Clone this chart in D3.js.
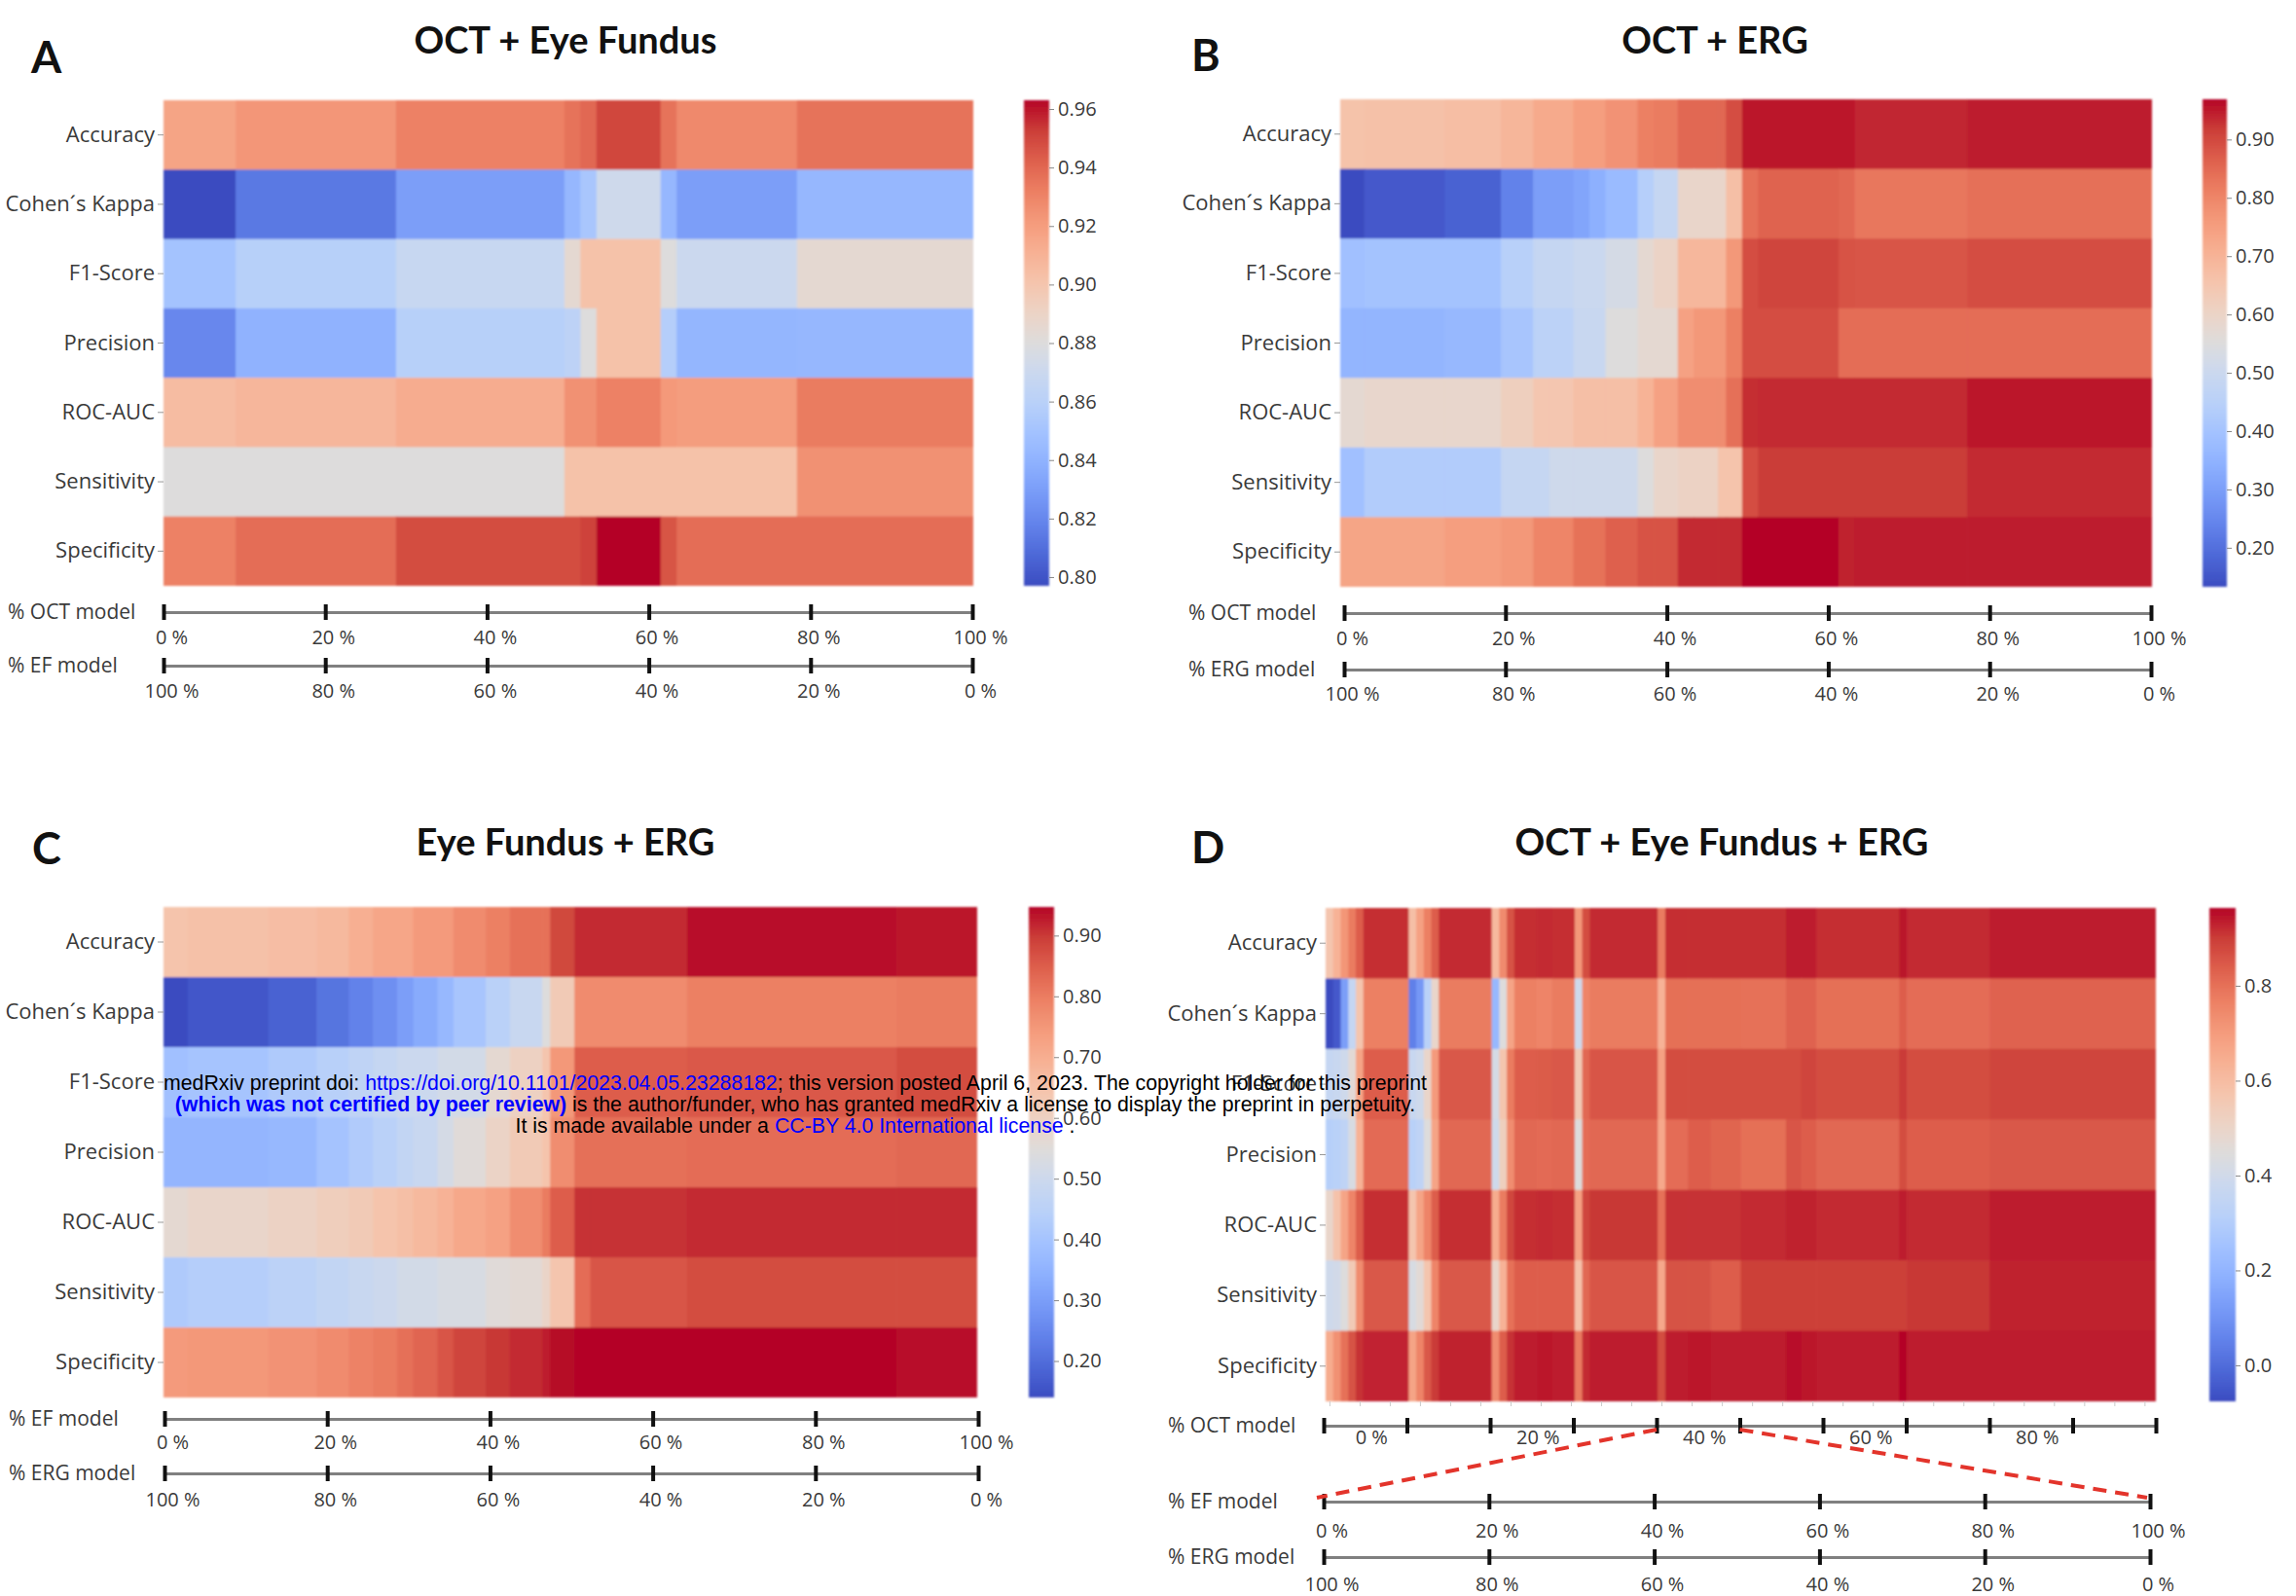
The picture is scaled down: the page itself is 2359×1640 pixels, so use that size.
<!DOCTYPE html>
<meta charset="utf-8">
<script src="https://d3js.org/d3.v7.min.js"></script>
<style>
  body { margin: 0; background: #fff; }
</style>
<body>
<script>

// ---- data -------------------------------------------------------------
var metrics = ["Accuracy", "Cohen´s Kappa", "F1-Score", "Precision", "ROC-AUC", "Sensitivity", "Specificity"];
var pctTicks = [0, 20, 40, 60, 80, 100];
var octGroups = [0, 10, 20, 30, 40, 50, 60, 70, 80, 90];

// A: OCT + Eye Fundus, 101 weight steps, values constant between breaks
var colsA = 101;
var breaksA = [0, 9, 29, 50, 52, 54, 62, 64, 79, 101];
var valuesA = [
  [0.917, 0.923, 0.931, 0.936, 0.940, 0.950, 0.936, 0.928, 0.936],
  [0.797, 0.814, 0.830, 0.843, 0.852, 0.872, 0.843, 0.830, 0.843],
  [0.850, 0.859, 0.868, 0.885, 0.902, 0.902, 0.880, 0.870, 0.885],
  [0.820, 0.840, 0.859, 0.862, 0.880, 0.902, 0.858, 0.842, 0.843],
  [0.905, 0.908, 0.913, 0.925, 0.925, 0.931, 0.922, 0.920, 0.933],
  [0.880, 0.880, 0.880, 0.902, 0.902, 0.902, 0.902, 0.902, 0.925],
  [0.931, 0.938, 0.948, 0.948, 0.951, 0.963, 0.946, 0.938, 0.938]
];
var cbTicksA = [0.80, 0.82, 0.84, 0.86, 0.88, 0.90, 0.92, 0.94, 0.96];

// B: OCT + ERG
var colsB = 101;
var breaksB = [0, 3, 13, 20, 24, 26, 29, 31, 33, 37, 39, 42, 44, 47, 48, 50, 52, 62, 64, 78, 101];
var valuesB = [
  [0.659, 0.663, 0.672, 0.693, 0.722, 0.722, 0.751, 0.751, 0.776, 0.810, 0.818, 0.852, 0.852, 0.852, 0.893, 0.952, 0.952, 0.952, 0.939, 0.948],
  [0.133, 0.158, 0.174, 0.237, 0.300, 0.300, 0.316, 0.342, 0.375, 0.442, 0.484, 0.592, 0.592, 0.592, 0.668, 0.839, 0.860, 0.852, 0.826, 0.839],
  [0.392, 0.400, 0.400, 0.446, 0.484, 0.484, 0.500, 0.500, 0.525, 0.576, 0.601, 0.689, 0.689, 0.689, 0.764, 0.893, 0.906, 0.885, 0.881, 0.893],
  [0.358, 0.358, 0.367, 0.408, 0.459, 0.459, 0.492, 0.492, 0.551, 0.576, 0.576, 0.743, 0.764, 0.764, 0.810, 0.893, 0.893, 0.843, 0.843, 0.843],
  [0.576, 0.588, 0.588, 0.617, 0.647, 0.647, 0.668, 0.668, 0.668, 0.701, 0.743, 0.785, 0.785, 0.785, 0.839, 0.931, 0.935, 0.935, 0.935, 0.952],
  [0.392, 0.433, 0.433, 0.484, 0.484, 0.509, 0.509, 0.509, 0.509, 0.551, 0.592, 0.605, 0.605, 0.655, 0.655, 0.893, 0.918, 0.918, 0.918, 0.935],
  [0.735, 0.735, 0.751, 0.764, 0.801, 0.801, 0.835, 0.835, 0.864, 0.885, 0.885, 0.935, 0.935, 0.935, 0.935, 0.969, 0.969, 0.944, 0.948, 0.948]
];
var cbTicksB = [0.20, 0.30, 0.40, 0.50, 0.60, 0.70, 0.80, 0.90];

// C: Eye Fundus + ERG
var colsC = 101;
var breaksC = [0, 3, 13, 19, 23, 26, 29, 31, 34, 36, 40, 43, 47, 48, 51, 53, 65, 91, 101];
var valuesC = [
  [0.644, 0.652, 0.661, 0.673, 0.697, 0.717, 0.717, 0.745, 0.745, 0.773, 0.794, 0.818, 0.818, 0.882, 0.915, 0.915, 0.939, 0.931],
  [0.140, 0.160, 0.180, 0.213, 0.241, 0.269, 0.301, 0.330, 0.366, 0.406, 0.447, 0.487, 0.544, 0.624, 0.773, 0.773, 0.794, 0.802],
  [0.390, 0.402, 0.422, 0.443, 0.463, 0.479, 0.495, 0.495, 0.515, 0.515, 0.568, 0.600, 0.640, 0.749, 0.850, 0.850, 0.858, 0.874],
  [0.358, 0.358, 0.366, 0.398, 0.426, 0.447, 0.471, 0.487, 0.519, 0.552, 0.592, 0.624, 0.644, 0.769, 0.822, 0.822, 0.826, 0.834],
  [0.568, 0.584, 0.596, 0.612, 0.624, 0.644, 0.656, 0.673, 0.689, 0.713, 0.729, 0.769, 0.802, 0.850, 0.907, 0.907, 0.915, 0.915],
  [0.422, 0.435, 0.455, 0.471, 0.487, 0.499, 0.515, 0.515, 0.527, 0.527, 0.552, 0.560, 0.588, 0.640, 0.826, 0.862, 0.874, 0.874],
  [0.745, 0.749, 0.761, 0.773, 0.790, 0.802, 0.822, 0.838, 0.862, 0.886, 0.903, 0.915, 0.927, 0.943, 0.947, 0.947, 0.947, 0.939]
];
var cbTicksC = [0.20, 0.30, 0.40, 0.50, 0.60, 0.70, 0.80, 0.90];

// D: OCT + Eye Fundus + ERG, 10 OCT groups x 11 EF/ERG splits
var colsD = 110;
var breaksD = [0, 1, 2, 3, 4, 5, 11, 12, 13, 14, 15, 22, 23, 24, 25, 28, 30, 33, 34, 35, 44, 45, 48, 51, 55, 61, 63, 65, 76, 77, 88, 110];
var valuesD = [
  [0.569, 0.631, 0.714, 0.777, 0.839, 0.917, 0.590, 0.683, 0.766, 0.839, 0.922, 0.610, 0.740, 0.860, 0.917, 0.922, 0.917, 0.709, 0.870, 0.922, 0.777, 0.917, 0.917, 0.917, 0.917, 0.938, 0.938, 0.917, 0.948, 0.922, 0.938],
  [-0.076, -0.045, 0.132, 0.361, 0.569, 0.766, 0.049, 0.111, 0.319, 0.496, 0.777, 0.215, 0.444, 0.673, 0.766, 0.756, 0.777, 0.392, 0.756, 0.777, 0.631, 0.803, 0.803, 0.803, 0.798, 0.829, 0.829, 0.803, 0.839, 0.808, 0.829],
  [0.361, 0.371, 0.392, 0.465, 0.673, 0.839, 0.371, 0.392, 0.496, 0.704, 0.850, 0.413, 0.569, 0.777, 0.839, 0.844, 0.850, 0.548, 0.818, 0.855, 0.683, 0.870, 0.870, 0.870, 0.870, 0.870, 0.886, 0.870, 0.902, 0.870, 0.886],
  [0.309, 0.319, 0.340, 0.423, 0.631, 0.813, 0.319, 0.340, 0.444, 0.673, 0.818, 0.392, 0.527, 0.735, 0.818, 0.813, 0.818, 0.444, 0.808, 0.818, 0.662, 0.808, 0.839, 0.824, 0.803, 0.855, 0.839, 0.818, 0.870, 0.839, 0.850],
  [0.496, 0.579, 0.673, 0.756, 0.839, 0.917, 0.569, 0.673, 0.756, 0.839, 0.917, 0.652, 0.777, 0.881, 0.917, 0.922, 0.917, 0.683, 0.886, 0.907, 0.798, 0.912, 0.912, 0.912, 0.922, 0.933, 0.933, 0.922, 0.938, 0.922, 0.938],
  [0.392, 0.402, 0.444, 0.548, 0.735, 0.850, 0.423, 0.465, 0.569, 0.756, 0.850, 0.496, 0.631, 0.798, 0.839, 0.839, 0.839, 0.579, 0.818, 0.855, 0.662, 0.860, 0.860, 0.839, 0.896, 0.896, 0.896, 0.896, 0.896, 0.907, 0.933],
  [0.652, 0.725, 0.798, 0.860, 0.912, 0.928, 0.673, 0.756, 0.850, 0.902, 0.933, 0.735, 0.839, 0.912, 0.938, 0.943, 0.938, 0.777, 0.922, 0.938, 0.870, 0.938, 0.943, 0.938, 0.938, 0.954, 0.943, 0.938, 0.964, 0.938, 0.938]
];
var cbTicksD = [0.0, 0.2, 0.4, 0.6, 0.8];

// ---- drawing ----------------------------------------------------------
var W = 2359, H = 1640;
var labelFont = "'Open Sans', sans-serif";
var headFont = "Lato, 'Open Sans', sans-serif";

var svg = d3.select("body").append("svg")
    .attr("width", W).attr("height", H)
    .style("font-family", labelFont);

// matplotlib coolwarm, sampled
var cwStops = ["#3b4cc0", "#4d68d7", "#6282ea", "#779af7", "#8db0fe", "#a2c1ff", "#b8d0f9", "#cad8ef",
               "#dddcdc", "#ecd3c5", "#f5c4ac", "#f7b093", "#f49a7b", "#ec7f63", "#de604d", "#cb3e38", "#b40426"];
var cw = d3.scaleLinear()
    .domain(cwStops.map(function(d, i){ return i / (cwStops.length - 1); }))
    .range(cwStops)
    .clamp(true);

var defs = svg.append("defs");
defs.append("filter").attr("id", "soft")
    .append("feGaussianBlur").attr("stdDeviation", 1.1);
var grad = defs.append("linearGradient").attr("id", "cwGrad")
    .attr("x1", 0).attr("y1", 1).attr("x2", 0).attr("y2", 0);
d3.range(33).forEach(function(i){
    grad.append("stop").attr("offset", (i / 32 * 100) + "%").attr("stop-color", cw(i / 32));
});

function styleAxis(a, labelDy) {
    a.attr("font-size", 20).attr("font-family", labelFont);
    a.select(".domain").attr("stroke", "#808080").attr("stroke-width", 3);
    a.selectAll(".tick line").attr("y1", -8).attr("y2", 8).attr("stroke", "#111").attr("stroke-width", 4);
    a.selectAll(".tick text").attr("y", labelDy).attr("dy", "0.35em").attr("dx", 8).attr("fill", "#3a3a3a");
}

function axisTitle(g, x, y, txt) {
    g.append("text").attr("x", x).attr("y", y).attr("dy", "0.35em")
        .attr("font-size", 21).attr("fill", "#3a3a3a").text(txt);
}

// bottom weight axis, 0..100 % either way
function pctAxis(g, x0, x1, yLine, dom, labelDy, title) {
    var s = d3.scaleLinear().domain(dom).range([x0, x1]);
    var a = g.append("g").attr("transform", "translate(0," + yLine + ")")
        .call(d3.axisBottom(s).tickValues(pctTicks).tickFormat(function(d){ return d + " %"; })
            .tickSize(8).tickSizeOuter(0));
    styleAxis(a, labelDy);
    axisTitle(g, x0 - 160, yLine, title);
    return s;
}

function drawPanel(p) {
    var g = svg.append("g");
    var ext = d3.extent(d3.merge(p.values));
    var x = d3.scaleLinear().domain([0, p.cols]).range([p.x0, p.x1]);
    var y = d3.scaleBand().domain(metrics).range([p.y0, p.y1]);
    var c = d3.scaleLinear().domain(ext).range([0, 1]);

    var cells = [];
    p.values.forEach(function(row, r){
        row.forEach(function(v, i){
            cells.push({ m: metrics[r], a: p.breaks[i], b: p.breaks[i + 1], v: v });
        });
    });

    g.append("g").attr("filter", "url(#soft)")
      .selectAll("rect").data(cells).join("rect")
        .attr("x", function(d){ return x(d.a); })
        .attr("width", function(d){ return x(d.b) - x(d.a) + (d.b < p.cols ? 0.7 : 0); })
        .attr("y", function(d){ return y(d.m); })
        .attr("height", function(d){ return y.bandwidth() + (d.m !== metrics[6] ? 0.7 : 0); })
        .attr("fill", function(d){ return cw(c(d.v)); });

    // metric names
    var ya = g.append("g").attr("transform", "translate(" + p.x0 + ",0)")
        .call(d3.axisLeft(y).tickSize(6).tickPadding(3));
    ya.attr("font-size", 22).attr("font-family", labelFont);
    ya.select(".domain").remove();
    ya.selectAll(".tick line").attr("stroke", "#999");
    ya.selectAll(".tick text").attr("fill", "#3a3a3a");

    if (p.xTicks) {
        var xt = g.append("g").attr("transform", "translate(0," + p.y1 + ")")
            .call(d3.axisBottom(x).tickValues(p.xTicks).tickFormat(function(){ return ""; }).tickSize(5));
        xt.select(".domain").remove();
        xt.selectAll(".tick line").attr("stroke", "#ccc");
    }

    // colorbar
    g.append("rect").attr("x", p.cx0).attr("y", p.y0)
        .attr("width", p.cx1 - p.cx0).attr("height", p.y1 - p.y0)
        .attr("fill", "url(#cwGrad)").attr("filter", "url(#soft)");
    var cs = d3.scaleLinear().domain(ext).range([p.y1, p.y0]);
    var ca = g.append("g").attr("transform", "translate(" + p.cx1 + ",0)")
        .call(d3.axisRight(cs).tickValues(p.cbTicks).tickFormat(d3.format(p.cbFmt)).tickSize(5).tickPadding(4));
    ca.attr("font-size", 20).attr("font-family", labelFont);
    ca.select(".domain").remove();
    ca.selectAll(".tick line").attr("stroke", "#888");
    ca.selectAll(".tick text").attr("fill", "#3a3a3a");

    // panel letter and title
    g.append("text").attr("x", p.letterX).attr("y", p.letterY)
        .attr("font-family", headFont).attr("font-weight", 700).attr("font-size", 45)
        .attr("fill", "#111").text(p.letter);
    g.append("text").attr("x", p.titleX).attr("y", p.titleY).attr("text-anchor", "middle")
        .attr("font-family", headFont).attr("font-weight", 700).attr("font-size", 38)
        .attr("fill", "#111").text(p.title);
    return g;
}

// A
var gA = drawPanel({ letter: "A", title: "OCT + Eye Fundus", cols: colsA, breaks: breaksA, values: valuesA,
    x0: 168, x1: 1000, y0: 103, y1: 602, cx0: 1052, cx1: 1078, cbTicks: cbTicksA, cbFmt: ".2f",
    letterX: 32, letterY: 75, titleX: 581, titleY: 55 });
pctAxis(gA, 168, 999, 629, [0, 100], 26, "% OCT model");
pctAxis(gA, 168, 999, 684, [100, 0], 26, "% EF model");

// B
var gB = drawPanel({ letter: "B", title: "OCT + ERG", cols: colsB, breaks: breaksB, values: valuesB,
    x0: 1377, x1: 2211, y0: 102, y1: 603, cx0: 2263, cx1: 2288, cbTicks: cbTicksB, cbFmt: ".2f",
    letterX: 1224, letterY: 73, titleX: 1762, titleY: 55 });
pctAxis(gB, 1381, 2210, 630, [0, 100], 26, "% OCT model");
pctAxis(gB, 1381, 2210, 688, [100, 0], 25, "% ERG model");

// C
var gC = drawPanel({ letter: "C", title: "Eye Fundus + ERG", cols: colsC, breaks: breaksC, values: valuesC,
    x0: 168, x1: 1004, y0: 932, y1: 1436, cx0: 1057, cx1: 1083, cbTicks: cbTicksC, cbFmt: ".2f",
    letterX: 33, letterY: 888, titleX: 581, titleY: 879 });
pctAxis(gC, 169, 1005, 1458, [0, 100], 24, "% EF model");
pctAxis(gC, 169, 1005, 1514, [100, 0], 27, "% ERG model");

// D
var gD = drawPanel({ letter: "D", title: "OCT + Eye Fundus + ERG", cols: colsD, breaks: breaksD, values: valuesD,
    x0: 1362, x1: 2215, y0: 933, y1: 1440, cx0: 2270, cx1: 2297, cbTicks: cbTicksD, cbFmt: ".1f",
    letterX: 1224, letterY: 887, titleX: 1769, titleY: 879,
    xTicks: d3.range(0.5, colsD, 4) });

// OCT groups axis: marks at group edges, labels on every other group
var octY = 1465;
var og = d3.scaleLinear().domain([0, octGroups.length]).range([1360, 2215]);
var oa = gD.append("g").attr("transform", "translate(0," + octY + ")")
    .call(d3.axisBottom(og).tickValues(d3.range(octGroups.length + 1))
        .tickFormat(function(){ return ""; }).tickSize(8).tickSizeOuter(0));
styleAxis(oa, 0);
var ol = gD.append("g").attr("transform", "translate(0," + octY + ")")
    .call(d3.axisBottom(og)
        .tickValues(octGroups.map(function(d, i){ return i + 0.5; }).filter(function(d, i){ return i % 2 === 0; }))
        .tickFormat(function(d){ return octGroups[Math.floor(d)] + " %"; }).tickSize(0));
ol.select(".domain").remove();
ol.attr("font-size", 20).attr("font-family", labelFont);
ol.selectAll(".tick text").attr("y", 12).attr("dy", "0.35em").attr("dx", 6).attr("fill", "#3a3a3a");
axisTitle(gD, 1200, octY, "% OCT model");

var efY = 1543, ergY = 1600;
var ef = pctAxis(gD, 1360, 2209, efY, [0, 100], 30, "% EF model");
pctAxis(gD, 1360, 2209, ergY, [100, 0], 28, "% ERG model");

// zoom lines from the 40 % OCT group down to the EF axis
var zg = octGroups.indexOf(40);
gD.append("g").attr("stroke", "#e3342b").attr("stroke-width", 4).attr("stroke-dasharray", "14,9")
  .selectAll("line")
  .data([[og(zg), ef.range()[0] - 7], [og(zg + 1), ef.range()[1] - 3]])
  .join("line")
    .attr("x1", function(d){ return d[0]; }).attr("y1", octY + 4)
    .attr("x2", function(d){ return d[1]; }).attr("y2", efY - 4);

// preprint banner printed over the figure
var wm = svg.append("g").attr("font-family", "'Liberation Sans', Arial, sans-serif")
    .attr("font-size", 21.3).attr("text-anchor", "middle").attr("fill", "#000");
var l1 = wm.append("text").attr("x", 817).attr("y", 1120);
l1.append("tspan").text("medRxiv preprint doi: ");
l1.append("tspan").attr("fill", "#0000ff").text("https://doi.org/10.1101/2023.04.05.23288182");
l1.append("tspan").text("; this version posted April 6, 2023. The copyright holder for this preprint");
var l2 = wm.append("text").attr("x", 817).attr("y", 1142);
l2.append("tspan").attr("fill", "#0000ff").attr("font-weight", 700).text("(which was not certified by peer review)");
l2.append("tspan").text(" is the author/funder, who has granted medRxiv a license to display the preprint in perpetuity.");
var l3 = wm.append("text").attr("x", 817).attr("y", 1164);
l3.append("tspan").text("It is made available under a ");
l3.append("tspan").attr("fill", "#0000ff").text("CC-BY 4.0 International license");
l3.append("tspan").text(" .");

</script>
</body>
